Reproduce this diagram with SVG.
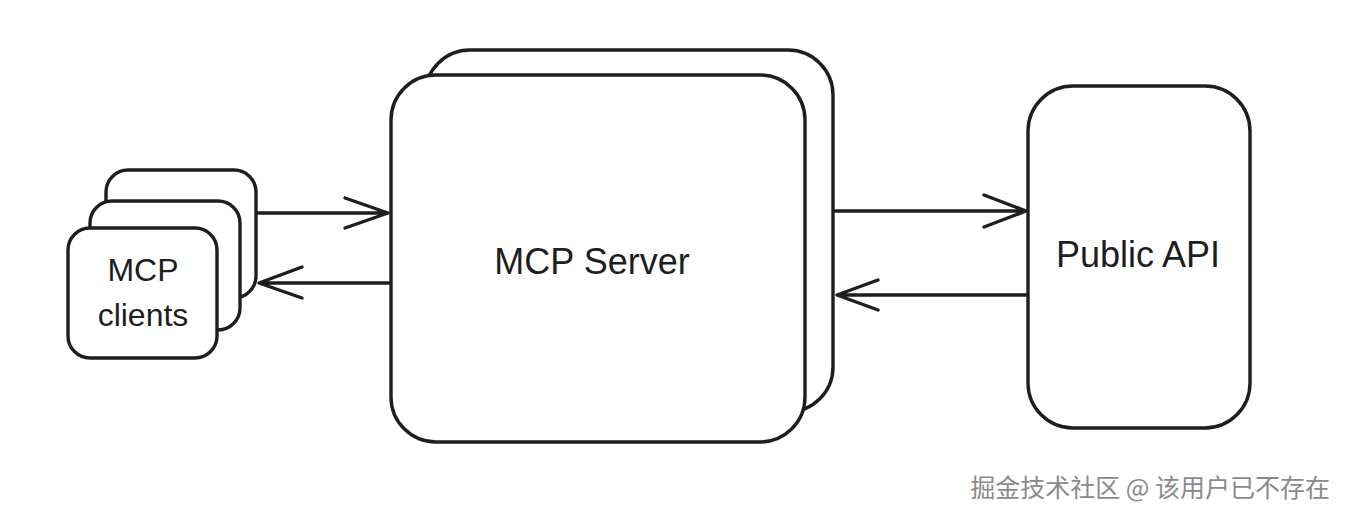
<svg xmlns="http://www.w3.org/2000/svg" width="1346" height="518" viewBox="0 0 1346 518">
<style>
.box{fill:#fff;stroke:#1e1e1e;stroke-width:3.4;stroke-linejoin:round}
.lbl{font-family:"Liberation Sans","Noto Sans",sans-serif;fill:#1e1e1e;text-anchor:middle}
.con{fill:none;stroke:#1e1e1e;stroke-width:3.4;stroke-linecap:round;stroke-linejoin:round}
.wm{font-family:"Noto Sans CJK SC",sans-serif;font-size:25px;text-anchor:end}
</style>
<rect width="1346" height="518" fill="#fff"/>
<g id="mcp-clients">
<rect class="box" x="106" y="170" width="150" height="128" rx="22"/>
<rect class="box" x="90" y="201" width="150" height="129" rx="22"/>
<rect class="box" x="68" y="228" width="149" height="130" rx="22"/>
<text class="lbl" x="143" y="281" font-size="32">MCP</text>
<text class="lbl" x="143" y="326" font-size="32">clients</text>
</g>
<g id="mcp-server">
<rect class="box" x="425" y="50" width="408" height="362" rx="45"/>
<rect class="box" x="391" y="75" width="414" height="367" rx="45"/>
<text class="lbl" x="592" y="274" font-size="36">MCP Server</text>
</g>
<g id="public-api">
<rect class="box" x="1028" y="86" width="222" height="342" rx="45"/>
<text class="lbl" x="1138" y="267" font-size="36">Public API</text>
</g>
<g id="connectors">
<path class="con" d="M257 213 L388 213 M345 198 L388 213 L345 228"/>
<path class="con" d="M389 283 L259 283 M302 267 L259 283 L302 298"/>
<path class="con" d="M835 211 L1026 211 M984 195 L1026 211 L984 227"/>
<path class="con" d="M1027 295 L837 295 M878 280 L837 295 L878 310"/>
</g>
<g id="watermark">
<text class="wm" x="1331" y="498" fill="#fff">掘金技术社区 @ 该用户已不存在</text>
<text class="wm" x="1330" y="497" fill="#8a8a8a">掘金技术社区 @ 该用户已不存在</text>
</g>
</svg>
